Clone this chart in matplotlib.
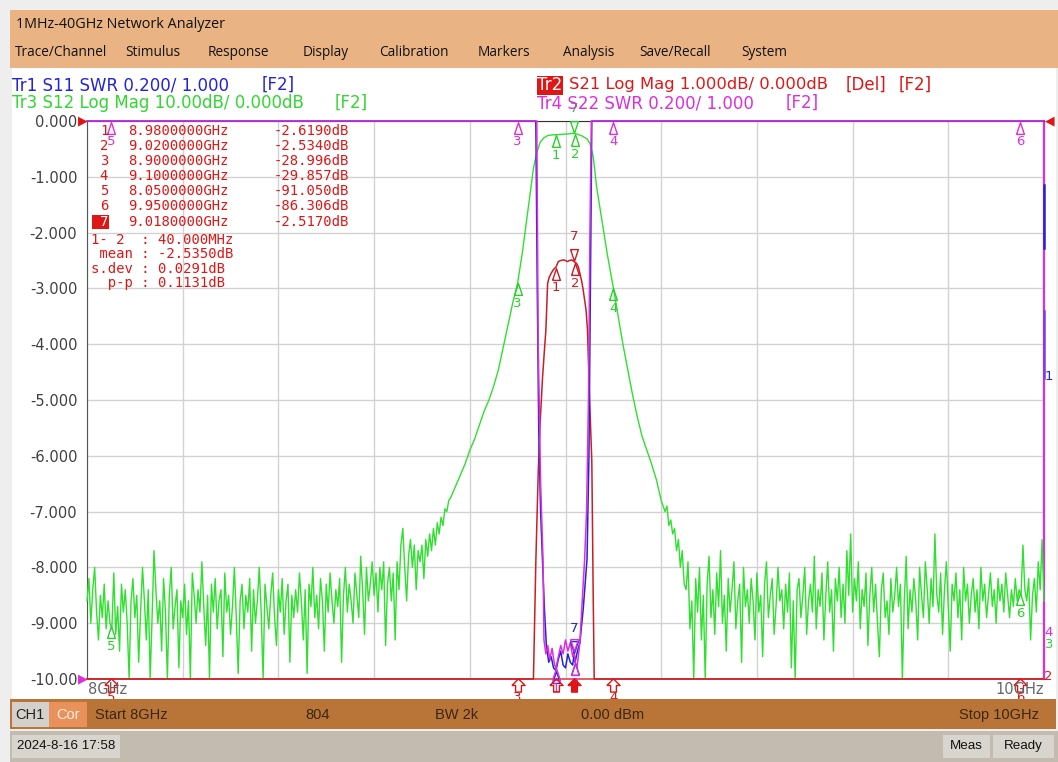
import numpy as np
import matplotlib
matplotlib.use("Agg")
import matplotlib.pyplot as plt
from matplotlib.patches import Rectangle
from matplotlib.transforms import offset_copy

# ------------------------------------------------------------------ data
start_ghz, stop_ghz = 8.0, 10.0
y_tick_values = [0, -1, -2, -3, -4, -5, -6, -7, -8, -9, -10]
y_tick_labels = ["0.000", "-1.000", "-2.000", "-3.000", "-4.000", "-5.000",
                 "-6.000", "-7.000", "-8.000", "-9.000", "-10.00"]

# Tr3 S12 (dB) – noise floor left, 8.000 GHz onward every 4 MHz
s12_left_start, s12_step = 8.000, 0.004
s12_left_noise_db = [
    -86, -82, -90, -84, -80, -88, -93, -85, -89, -83,
    -91, -86, -90, -91, -81, -92, -87, -95, -83, -88,
    -84, -90, -102, -86, -82, -89, -85, -97, -88, -80,
    -86, -93, -84, -101, -89, -77, -84, -90, -86, -95,
    -82, -88, -103, -85, -80, -91, -87, -84, -98, -86,
    -89, -83, -92, -86, -100, -81, -85, -90, -84, -88,
    -79, -87, -94, -85, -101, -83, -88, -82, -91, -86,
    -84, -96, -81, -88, -85, -92, -87, -80, -89, -99,
    -86, -83, -91, -85, -88, -82, -95, -84, -90, -86,
    -80, -88, -104, -83, -87, -91, -85, -81, -89, -94,
    -84, -88, -82, -92, -86, -83, -97, -85, -89, -84,
    -88, -81, -86, -93, -84, -99, -83, -87, -80, -89,
    -85, -91, -82, -86, -95, -83, -88, -81, -86, -90,
    -84, -87, -82, -97, -85, -80, -88, -83, -86, -90,
    -81, -85, -89, -78, -84, -92, -80, -86, -83, -79,
    -85, -81, -88, -80, -84, -79, -94, -83, -80, -86,
    -81, -93, -79]
# Tr3 S12 skirts and passband
s12_skirt_freq = [
    8.652, 8.656, 8.660, 8.664, 8.668, 8.672, 8.676, 8.680, 8.684, 8.688,
    8.692, 8.696, 8.700, 8.704, 8.708, 8.712, 8.716, 8.720, 8.724, 8.728,
    8.732, 8.736, 8.740, 8.744, 8.748, 8.752, 8.756, 8.760,
    8.770, 8.780, 8.790, 8.800, 8.810, 8.820, 8.830, 8.840, 8.850, 8.860,
    8.870, 8.880, 8.890, 8.900, 8.910, 8.920,
    8.926, 8.933, 8.940, 8.947, 8.955, 8.963, 8.972, 8.980, 8.990, 9.000,
    9.008, 9.016, 9.025, 9.035, 9.045, 9.051, 9.058, 9.065, 9.076, 9.087,
    9.100, 9.110, 9.120, 9.130, 9.140, 9.150, 9.160, 9.170, 9.180, 9.190, 9.200,
    9.208, 9.212, 9.216, 9.220, 9.224, 9.228, 9.232, 9.236, 9.240, 9.244, 9.248]
s12_skirt_db = [
    -84, -76, -73, -80, -86, -78, -75, -80, -76, -84,
    -77, -79, -76, -82, -75, -78, -74, -77, -73, -76,
    -72, -74, -71, -72.5, -69.5, -70, -68, -67.5,
    -65.5, -63.5, -61.5, -59, -57, -54.5, -52, -50, -47.5, -44.5,
    -40.5, -36.5, -32.5, -29, -23.5, -17,
    -13, -8.5, -5.7, -3.8, -3.0, -2.6, -2.5, -2.45, -2.4, -2.35,
    -2.3, -2.2, -2.35, -2.7, -3.2, -4.0, -6.4, -11.8, -17.7, -23.7,
    -29.9, -35, -40, -44.5, -49, -53, -56.5, -59, -61.5, -64.3, -68,
    -70, -69, -72.5, -71.5, -74, -73, -77, -75, -80, -77, -83]
# Tr3 S12 noise floor right, 9.252 GHz onward every 4 MHz
s12_right_start = 9.252
s12_right_noise_db = [
    -84, -79, -91, -86, -102, -82, -88, -80, -93, -85,
    -101, -83, -78, -89, -84, -92, -81, -87, -77, -90,
    -85, -95, -82, -88, -84, -79, -91, -86, -83, -97,
    -80, -87, -84, -90, -82, -86, -93, -81, -88, -85,
    -96, -83, -79, -89, -85, -82, -92, -87, -80, -86,
    -84, -91, -83, -88, -81, -98, -86, -101, -84, -82,
    -89, -85, -80, -92, -86, -83, -88, -78, -91, -84,
    -87, -81, -93, -85, -79, -88, -84, -95, -82, -86,
    -80, -89, -83, -90, -77, -85, -74, -88, -82, -86,
    -79, -91, -84, -87, -81, -94, -85, -80, -88, -83,
    -90, -96, -84, -81, -89, -86, -92, -82, -88, -85,
    -80, -87, -83, -103, -86, -78, -91, -84, -88, -82,
    -86, -93, -80, -85, -89, -79, -84, -90, -82, -87,
    -74, -85, -88, -81, -92, -84, -79, -87, -95, -83,
    -86, -81, -89, -84, -93, -80, -86, -83, -90, -85,
    -82, -88, -84, -91, -80, -86, -83, -89, -85, -81,
    -87, -84, -90, -82, -86, -83, -88, -81, -85, -89,
    -84, -87, -82, -86, -84, -85, -76, -84, -86, -82,
    -93, -85, -82, -88, -79, -84, -75, -86]

# Tr2 S21 (dB)
s21_freq = [8.000, 8.050, 8.900, 8.928, 8.933, 8.938, 8.943, 8.947, 8.952, 8.956,
            8.959, 8.9626, 8.966, 8.970, 8.975, 8.980, 8.985, 8.990, 8.996, 9.000,
            9.004, 9.008, 9.013, 9.018, 9.020, 9.023, 9.027, 9.030, 9.034, 9.037,
            9.043, 9.046, 9.050, 9.055, 9.058, 9.060, 9.066, 9.100, 9.950, 10.000]
s21_db = [-88.0, -91.05, -28.996, -14.5, -10.2, -7.9, -6.3, -5.4, -4.6, -4.1,
          -3.75, -2.91, -2.80, -2.73, -2.66, -2.619, -2.52, -2.50, -2.49, -2.50,
          -2.52, -2.50, -2.49, -2.517, -2.534, -2.55, -2.62, -2.73, -2.88, -3.03,
          -3.39, -3.75, -4.9, -6.1, -8.6, -10.2, -15.0, -29.857, -86.306, -85.0]

# Tr1 S11 (SWR)
s11_freq = [8.000, 8.930, 8.938, 8.941, 8.944, 8.948, 8.952, 8.956, 8.960, 8.965,
            8.970, 8.975, 8.980, 8.985, 8.990, 8.995, 9.000, 9.005, 9.010, 9.015,
            9.018, 9.020, 9.025, 9.030, 9.037, 9.045, 9.049, 9.052, 9.055, 9.060, 10.000]
s11_swr = [25, 12, 3.4, 2.4, 1.9, 1.6, 1.42, 1.25, 1.12, 1.06,
           1.08, 1.04, 1.03, 1.07, 1.10, 1.05, 1.04, 1.09, 1.06, 1.05,
           1.09, 1.06, 1.10, 1.13, 1.25, 1.43, 1.8, 2.4, 3.3, 9, 25]

# Tr4 S22 (SWR)
s22_freq = [8.000, 8.928, 8.937, 8.940, 8.943, 8.948, 8.953, 8.955, 8.959, 8.963,
            8.967, 8.972, 8.977, 8.980, 8.985, 8.990, 8.995, 9.000, 9.005, 9.010,
            9.015, 9.018, 9.020, 9.024, 9.030, 9.040, 9.044, 9.048, 9.051, 9.054, 9.060, 10.000]
s22_swr = [25, 12, 3.5, 3.0, 2.2, 1.7, 1.43, 1.14, 1.09, 1.12,
           1.07, 1.11, 1.05, 1.04, 1.08, 1.12, 1.09, 1.14, 1.10, 1.13,
           1.08, 1.10, 1.06, 1.04, 1.13, 1.43, 1.6, 2.0, 2.6, 3.3, 12, 25]

marker_ids = ["1", "2", "3", "4", "5", "6", "7"]
marker_freq = [8.98, 9.02, 8.90, 9.10, 8.05, 9.95, 9.018]
marker_freq_text = ["8.9800000GHz", "9.0200000GHz", "8.9000000GHz", "9.1000000GHz",
                    "8.0500000GHz", "9.9500000GHz", "9.0180000GHz"]
marker_val_text = ["-2.6190dB", "-2.5340dB", "-28.996dB", "-29.857dB",
                   "-91.050dB", "-86.306dB", "-2.5170dB"]
stats_lines = ["1- 2  : 40.000MHz", " mean : -2.5350dB", "s.dev : 0.0291dB", "  p-p : 0.1131dB"]

title_text = "1MHz-40GHz Network Analyzer"
menu_items = ["Trace/Channel", "Stimulus", "Response", "Display", "Calibration",
              "Markers", "Analysis", "Save/Recall", "System"]
menu_x = [15, 125, 208, 303, 379, 478, 563, 639, 741]

# scales (per division) of each trace, reference at top (log) / bottom (SWR)
s21_scale, s12_scale, swr_scale = 1.0, 10.0, 0.2

C_GREEN, C_RED, C_BLUE, C_MAG = "#2fe02f", "#c81e24", "#2323d8", "#dc2fdc"
C_HRED = "#e01616"
C_HGREEN = "#30d830"

# ------------------------------------------------------------------ figure
W, H = 1058, 762
fig = plt.figure(figsize=(W / 100, H / 100), dpi=100)
fig.patch.set_facecolor("#eeeeee")


def fx(x):
    return x / W


def fy(y):
    return 1 - y / H


def rect(x0, y0, x1, y1, color, z=-5):
    fig.add_artist(Rectangle((fx(x0), fy(y1)), (x1 - x0) / W, (y1 - y0) / H,
                             transform=fig.transFigure, facecolor=color,
                             edgecolor="none", zorder=z))


def ftext(x, y, s, size=10, color="black", ha="left", family="DejaVu Sans", z=6, **kw):
    fig.text(fx(x), fy(y), s, fontsize=size, color=color, ha=ha, va="center",
             family=family, zorder=z, **kw)


# window backgrounds
rect(10, 10, 1058, 68, "#e9b384")
rect(12, 68, 1056, 699, "white")
rect(10, 699, 1056, 729, "#b97437", z=5)
rect(12, 702, 49, 727, "#d4d0cb", z=5.1)
rect(49, 702, 87, 727, "#e8915a", z=5.1)
rect(10, 731, 1058, 762, "#c3bbaf", z=5)
rect(12, 735, 120, 758, "#d8d4ce", z=5.1)
rect(943, 735, 990, 758, "#d8d4ce", z=5.1)
rect(993, 735, 1054, 758, "#d8d4ce", z=5.1)

# title and menu
ftext(16, 24, title_text, size=10.4, family="Open Sans", color="#111111")
for x, s in zip(menu_x, menu_items):
    ftext(x, 52, s, size=9.8, family="Open Sans", color="#111111")

# trace headers
HF = 12
ftext(12, 85, "Tr1 S11 SWR 0.200/ 1.000", size=HF, color=C_BLUE)
ftext(262, 85, "[F2]", size=HF, color=C_BLUE)
ftext(12, 103, "Tr3 S12 Log Mag 10.00dB/ 0.000dB", size=HF, color=C_HGREEN)
ftext(335, 103, "[F2]", size=HF, color=C_HGREEN)
rect(537, 76, 563, 95, C_HRED, z=5.5)
ftext(550, 85, "Tr2", size=HF, color="white", ha="center")
ftext(569, 85, "S21 Log Mag 1.000dB/ 0.000dB", size=11.8, color=C_HRED)
ftext(846, 85, "[Del]", size=HF, color=C_HRED)
ftext(899, 85, "[F2]", size=HF, color=C_HRED)
ftext(537, 103, "Tr4 S22 SWR 0.200/ 1.000", size=HF, color=C_MAG)
ftext(786, 103, "[F2]", size=HF, color=C_MAG)

# status bars
SF = "Liberation Sans"
ftext(30, 715, "CH1", size=10.5, family=SF, color="#222222", ha="center", z=7)
ftext(68, 715, "Cor", size=10.5, family=SF, color="#fbeee4", ha="center", z=7)
ftext(95, 715, "Start 8GHz", size=10.5, family=SF, color="#3a2614", z=7)
ftext(318, 715, "804", size=10.5, family=SF, color="#3a2614", ha="center", z=7)
ftext(435, 715, "BW 2k", size=10.5, family=SF, color="#3a2614", z=7)
ftext(581, 715, "0.00 dBm", size=10.5, family=SF, color="#3a2614", z=7)
ftext(1039, 715, "Stop 10GHz", size=10.5, family=SF, color="#3a2614", ha="right", z=7)
ftext(17, 746, "2024-8-16 17:58", size=9.6, family=SF, color="#111111", z=7)
ftext(966, 746, "Meas", size=9.6, family=SF, color="#111111", ha="center", z=7)
ftext(1023, 746, "Ready", size=9.6, family=SF, color="#111111", ha="center", z=7)

# ------------------------------------------------------------------ axes
ax = fig.add_axes([fx(87), fy(679), (1044 - 87) / W, (679 - 121) / H])
ax.set_facecolor("white")
ax.set_xlim(start_ghz, stop_ghz)
ax.set_ylim(-10, 0)
ax.set_xticks(np.linspace(start_ghz, stop_ghz, 11))
ax.set_yticks(y_tick_values, labels=y_tick_labels)
ax.grid(True, color="#d2d2d2", lw=1.0, zorder=0)
ax.set_axisbelow(True)
ax.tick_params(axis="both", length=0)
ax.tick_params(axis="x", labelbottom=False)
ax.tick_params(axis="y", pad=7, labelsize=10.5, labelcolor="#404040")
ax.spines["left"].set_color("#555555")
ax.spines["right"].set_color(C_MAG)
ax.spines["right"].set_linewidth(1.6)
ax.spines["top"].set_color("#333333")
ax.spines["bottom"].set_color("#e05555")
ax.spines["bottom"].set_linewidth(1.3)


def disp_log(db, scale):
    return np.clip(np.asarray(db, float) / scale, -10, 0)


def disp_swr(swr):
    return np.clip(-10 + (np.asarray(swr, float) - 1.0) / swr_scale, -10, 0)


left_f = s12_left_start + s12_step * np.arange(len(s12_left_noise_db))
right_f = s12_right_start + s12_step * np.arange(len(s12_right_noise_db))
s12_f = np.concatenate([left_f, s12_skirt_freq, right_f])
s12_v = disp_log(np.concatenate([s12_left_noise_db, s12_skirt_db, s12_right_noise_db]), s12_scale)
s21_v = disp_log(s21_db, s21_scale)
s11_v = disp_swr(s11_swr)
s22_v = disp_swr(s22_swr)

ax.plot(s12_f, s12_v, color=C_GREEN, lw=1.0, zorder=3, clip_on=False)
ax.plot(s21_freq, s21_v, color=C_RED, lw=1.1, zorder=4, clip_on=False)
ax.plot(s11_freq, s11_v, color=C_BLUE, lw=1.1, zorder=5, clip_on=False)
ax.plot(s22_freq, s22_v, color=C_MAG, lw=1.1, zorder=6, clip_on=False)

# right edge segments of S11
ax.plot([stop_ghz, stop_ghz], [-1.15, -2.27], color=C_BLUE, lw=1.8, zorder=7, clip_on=False)
ax.plot([stop_ghz, stop_ghz], [-3.4, -4.6], color="#7a3cf0", lw=1.8, zorder=7, clip_on=False)

TRI_UP = [(-0.33, -0.5), (0.33, -0.5), (0.0, 0.5), (-0.33, -0.5)]
TRI_DN = [(-0.33, 0.5), (0.33, 0.5), (0.0, -0.5), (-0.33, 0.5)]
ARROW_UP = [(-0.5, 0.0), (0.0, 0.5), (0.5, 0.0), (0.22, 0.0), (0.22, -0.5),
            (-0.22, -0.5), (-0.22, 0.0), (-0.5, 0.0)]


def mark(f, v, color, label, above, z=8, show_label=True):
    sgn = 1 if above else -1
    tr = offset_copy(ax.transData, fig=fig, x=0, y=sgn * 6.5, units="dots")
    ax.plot([f], [v], linestyle="none", marker=TRI_DN if above else TRI_UP,
            ms=8.5, mfc="none", mec=color, mew=1.0, transform=tr,
            clip_on=False, zorder=z)
    if show_label:
        ax.annotate(label, xy=(f, v), xytext=(0, sgn * (18 if above else 15)),
                    textcoords="offset points", ha="center", va="center",
                    fontsize=9.5, color=color, zorder=z, annotation_clip=False)


def trace_markers(freq, vals, color, ids, z, labelled=None):
    for mid, f in zip(marker_ids, marker_freq):
        if mid not in ids:
            continue
        v = float(np.interp(f, freq, vals))
        show = labelled is None or mid in labelled
        mark(f, v, color, mid, above=(mid == "7"), z=z, show_label=show)


trace_markers(s11_freq, s11_v, C_BLUE, ["1", "2", "7"], 8, labelled=["7"])
trace_markers(s22_freq, s22_v, C_MAG, ["1", "2", "3", "4", "5", "6", "7"], 9,
              labelled=["1", "2", "3", "4", "5", "6"])
trace_markers(s12_f, s12_v, "#28d228", ["1", "2", "3", "4", "5", "6", "7"], 10)
trace_markers(s21_freq, s21_v, C_RED, ["1", "2", "7"], 11)

# stimulus arrows of Tr2 markers below the grid
arrow_tr = offset_copy(ax.transData, fig=fig, x=0, y=-5.5, units="dots")
for mid, f in zip(marker_ids, marker_freq):
    if mid == "2":
        continue
    active = mid == "7"
    ax.plot([f], [-10], linestyle="none", marker=ARROW_UP, ms=9.5,
            mfc=C_HRED if active else "none", mec=C_HRED, mew=1.0,
            transform=arrow_tr, clip_on=False, zorder=12)
    if mid in ("3", "4", "5", "6"):
        ax.annotate(mid, xy=(f, -10), xytext=(0, -13), textcoords="offset points",
                    ha="center", va="center", fontsize=9.5, color=C_HRED,
                    annotation_clip=False, zorder=2)

# x labels
ftext(88, 690, "8GHz", size=10.5, color="#666666")
ftext(1044, 690, "10GHz", size=10.5, color="#666666", ha="right")

# reference indicators
ftext(83, 121, "\u25b6", size=9, color=C_HRED, ha="center")
ftext(83, 679, "\u25b6", size=9, color=C_MAG, ha="center")
ftext(1050, 121, "\u25c0", size=9, color=C_HRED, ha="center")
ftext(1049, 377, "1", size=9.5, color=C_BLUE, ha="center")
ftext(1049, 632, "4", size=9.5, color=C_MAG, ha="center")
ftext(1049, 645, "3", size=9.5, color=C_HGREEN, ha="center")
ftext(1048, 677, "2", size=9.5, color=C_HRED, ha="center")

# marker table
MF = "DejaVu Sans Mono"
for i, (mid, ft, vt) in enumerate(zip(marker_ids, marker_freq_text, marker_val_text)):
    y = 131 + 15.1 * i
    if mid == "7":
        rect(92, y - 7, 109, y + 7, C_HRED, z=6.5)
        ftext(104, y, mid, size=10, family=MF, color="white", ha="center", z=7)
    else:
        ftext(104, y, mid, size=10, family=MF, color=C_HRED, ha="center", z=7)
    ftext(128, y, ft, size=10, family=MF, color=C_HRED, z=7)
    ftext(349, y, vt, size=10, family=MF, color=C_HRED, ha="right", z=7)
for i, s in enumerate(stats_lines):
    ftext(91, 240 + 14.3 * i, s, size=10, family=MF, color=C_HRED, z=7)

fig.savefig("out.png", dpi=100)
